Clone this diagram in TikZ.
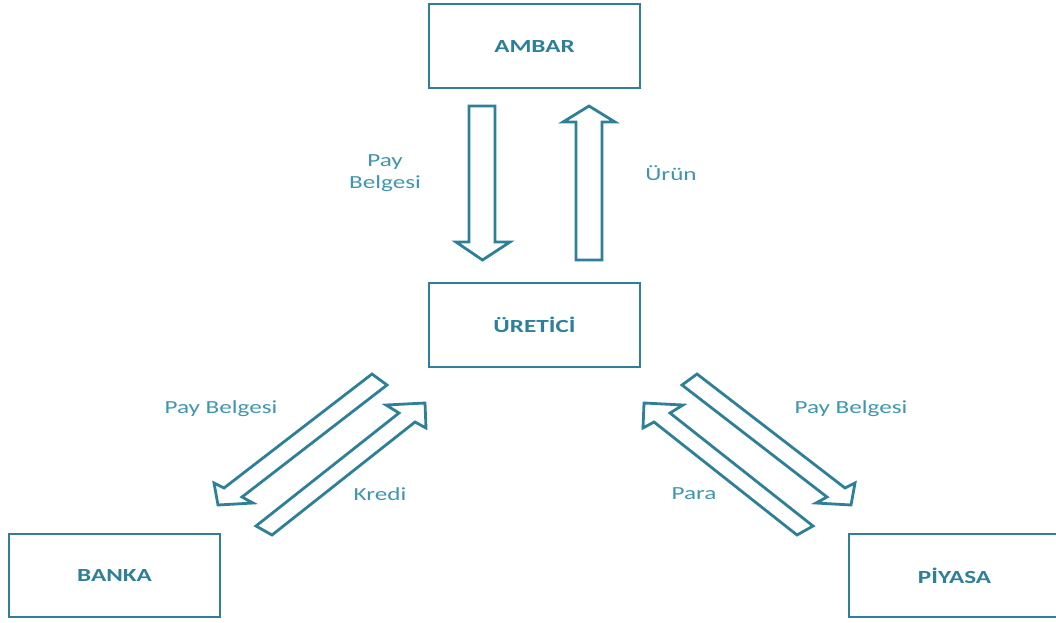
\documentclass[tikz,border=0pt]{standalone}
\usepackage{graphicx}
\usepackage{fontspec}
\setmainfont{Carlito}
\definecolor{tealline}{HTML}{2E8099}
\definecolor{tealtext}{HTML}{2E8099}
\definecolor{labeltext}{HTML}{3F96B0}
\newcommand\hstr[1]{\scalebox{1.36}[1]{#1}}
\tikzset{
  boxnode/.style={draw=tealline, line width=2.8pt, rectangle, minimum width=211pt, minimum height=84pt,
    inner sep=0pt, font=\fontsize{18.5}{22}\selectfont\bfseries, text=tealtext},
  lbl/.style={font=\fontsize{18.5}{22.5}\selectfont, text=labeltext, align=center, inner sep=0pt},
  blockarrow/.style={draw=tealline, line width=2.8pt, line join=miter, fill=white}
}
\begin{document}
\begin{tikzpicture}[x=1pt,y=-1pt]
\useasboundingbox (0,0) rectangle (1056,622);
\clip (0,0) rectangle (1056,622);
\fill[white] (0,0) rectangle (1056,622);

% boxes
\node[boxnode] (ambar) at (534.5,46) {\hstr{AMBAR}};
\node[boxnode] (uretici) at (534.5,325) {\hstr{ÜRETİCİ}};
\node[boxnode, minimum height=83pt] (banka) at (114.5,575.5) {\hstr{BANKA}};
\node[boxnode, minimum height=83pt] (piyasa) at (954.5,575.5) {\hstr{PİYASA}};

% vertical block arrows
\draw[blockarrow] (469,106) -- (495,106) -- (495,242) -- (510,242) -- (482.5,260) -- (456,242) -- (469,242) -- cycle;
\draw[blockarrow] (576,260) -- (602,260) -- (602,122) -- (615,122) -- (589,106) -- (563,122) -- (576,122) -- cycle;

% left diagonal block arrows
\draw[blockarrow] (372,374) -- (224,488) -- (214,483) -- (218,505) -- (253,503) -- (242,497) -- (387,385) -- cycle;
\draw[blockarrow] (256,526) -- (399,413) -- (386,405) -- (425,403) -- (426,428) -- (415,422) -- (272,535) -- cycle;

% right diagonal block arrows
\draw[blockarrow] (697,374) -- (845,488) -- (855,483) -- (851,505) -- (816,503) -- (827,497) -- (682,385) -- cycle;
\draw[blockarrow] (813,526) -- (670,413) -- (683,405) -- (644,403) -- (643,428) -- (654,422) -- (797,535) -- cycle;

% labels
\node[lbl] (l1) at (385,173) {\hstr{Pay}\\\hstr{Belgesi}};
\node[lbl] (l2) at (671,173) {\hstr{Ürün}};
\node[lbl] (l3) at (221,409) {\hstr{Pay Belgesi}};
\node[lbl] (l4) at (380,494) {\hstr{Kredi}};
\node[lbl] (l5) at (851,409) {\hstr{Pay Belgesi}};
\node[lbl] (l6) at (694,494) {\hstr{Para}};
\end{tikzpicture}
\end{document}
